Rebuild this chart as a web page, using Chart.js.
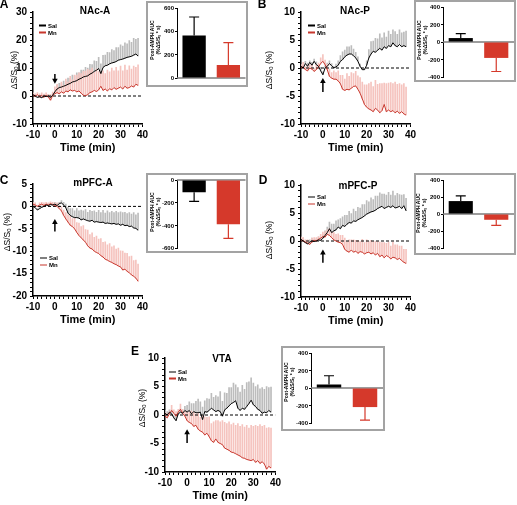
<!DOCTYPE html>
<html>
<head>
<meta charset="utf-8">
<script src="https://cdn.jsdelivr.net/npm/chart.js@4/dist/chart.umd.min.js"></script>
<style>
  body { margin: 0; width: 517px; height: 505px; position: relative; overflow: hidden; background: #fff;
         font-family: "Liberation Sans", Arial, sans-serif; color: #000; }
  canvas { position: absolute; z-index: 1; }
  canvas.inset { z-index: 3; }
  .box { position: absolute; z-index: 2; box-sizing: border-box; border: 2px solid #a3a3a3; background: #fff; }
  .c { position: absolute; z-index: 4; transform: translate(-50%, -50%); white-space: nowrap; font-weight: bold; }
  .letter { font-size: 12px; }
  .ttl { font-size: 10px; }
  .yt { position: absolute; z-index: 4; transform: translate(-50%, -50%) rotate(-90deg); white-space: nowrap; font-size: 8.5px; }
  .it { position: absolute; z-index: 4; transform: translate(-50%, -50%) rotate(-90deg); white-space: nowrap; font-size: 5px;
        line-height: 5.7px; text-align: center; font-weight: bold; }
  sub { font-size: 70%; vertical-align: -0.25em; line-height: 0; }
  .lg { position: absolute; z-index: 4; transform: translateY(-50%); white-space: nowrap; font: bold 6px "Liberation Sans", Arial, sans-serif; line-height: 7px; }
  .lg span { display: inline-block; width: 7px; height: 1.3px; margin-right: 2px; vertical-align: middle; }
  .tk { position: absolute; z-index: 10; transform: translate(-100%, -50%); white-space: nowrap;
        font: bold 6px "Liberation Sans", Arial, sans-serif; line-height: 7px; }
</style>
</head>
<body>

<canvas id="cA" width="150" height="159" style="left:0px;top:0px"></canvas>
<canvas id="cB" width="150" height="159" style="left:268px;top:0px"></canvas>
<canvas id="cC" width="150" height="159" style="left:0px;top:172px"></canvas>
<canvas id="cD" width="150" height="159" style="left:268px;top:173px"></canvas>
<canvas id="cE" width="151" height="161" style="left:132px;top:346px"></canvas>

<div class="box" style="left:146px;top:1px;width:102px;height:86px"></div>
<div class="box" style="left:414px;top:0px;width:102px;height:82px"></div>
<div class="box" style="left:146px;top:173px;width:102px;height:80px"></div>
<div class="box" style="left:414px;top:173px;width:102px;height:82px"></div>
<div class="box" style="left:281px;top:346px;width:104px;height:85px"></div>

<canvas class="inset" id="iA" width="102" height="86" style="left:146px;top:1px"></canvas>
<canvas class="inset" id="iB" width="102" height="82" style="left:414px;top:0px"></canvas>
<canvas class="inset" id="iC" width="102" height="80" style="left:146px;top:173px"></canvas>
<canvas class="inset" id="iD" width="102" height="82" style="left:414px;top:173px"></canvas>
<canvas class="inset" id="iE" width="104" height="85" style="left:281px;top:346px"></canvas>

<!-- panel letters -->
<div class="c letter" style="left:4px;top:4px">A</div>
<div class="c letter" style="left:262px;top:4px">B</div>
<div class="c letter" style="left:4px;top:180px">C</div>
<div class="c letter" style="left:263px;top:180px">D</div>
<div class="c letter" style="left:135px;top:351px">E</div>

<!-- region titles -->
<div class="c ttl" style="left:95px;top:10px">NAc-A</div>
<div class="c ttl" style="left:355px;top:10px">NAc-P</div>
<div class="c ttl" style="left:93px;top:182px">mPFC-A</div>
<div class="c ttl" style="left:358px;top:185px">mPFC-P</div>
<div class="c ttl" style="left:222px;top:358px">VTA</div>

<!-- y axis titles -->
<div class="yt" style="left:14px;top:70px">ΔS/S<sub>0</sub> (%)</div>
<div class="yt" style="left:269px;top:70px">ΔS/S<sub>0</sub> (%)</div>
<div class="yt" style="left:7px;top:232px">ΔS/S<sub>0</sub> (%)</div>
<div class="yt" style="left:269px;top:240px">ΔS/S<sub>0</sub> (%)</div>
<div class="yt" style="left:142px;top:408px">ΔS/S<sub>0</sub> (%)</div>

<!-- inset y titles -->
<div class="it" style="left:156px;top:40px">Post-AMPH AUC<br>(%ΔS/S<sub>0</sub> * s)</div>
<div class="it" style="left:423px;top:40px">Post-AMPH AUC<br>(%ΔS/S<sub>0</sub> * s)</div>
<div class="it" style="left:156px;top:212px">Post-AMPH AUC<br>(%ΔS/S<sub>0</sub> * s)</div>
<div class="it" style="left:422px;top:213px">Post-AMPH AUC<br>(%ΔS/S<sub>0</sub> * s)</div>
<div class="it" style="left:290px;top:382px">Post-AMPH AUC<br>(%ΔS/S<sub>0</sub> * s)</div>

<!-- legends -->
<div class="lg" style="left:39px;top:25.5px"><span style="background:#000"></span>Sal</div>
<div class="lg" style="left:39px;top:32.5px"><span style="background:#c8372d"></span>Mn</div>
<div class="lg" style="left:308px;top:25.5px"><span style="background:#000"></span>Sal</div>
<div class="lg" style="left:308px;top:32.5px"><span style="background:#c8372d"></span>Mn</div>
<div class="lg" style="left:40px;top:258px"><span style="background:#000"></span>Sal</div>
<div class="lg" style="left:40px;top:265px"><span style="background:#c8372d"></span>Mn</div>
<div class="lg" style="left:308px;top:197px"><span style="background:#000"></span>Sal</div>
<div class="lg" style="left:308px;top:204px"><span style="background:#c8372d"></span>Mn</div>
<div class="lg" style="left:169px;top:372px"><span style="background:#000"></span>Sal</div>
<div class="lg" style="left:169px;top:378.5px"><span style="background:#c8372d"></span>Mn</div>

<script>
// time after AMPH (min), one sample per minute
const time = [-10, -9, -8, -7, -6, -5, -4, -3, -2, -1,
  0, 1, 2, 3, 4, 5, 6, 7, 8, 9,
  10, 11, 12, 13, 14, 15, 16, 17, 18, 19,
  20, 21, 22, 23, 24, 25, 26, 27, 28, 29,
  30, 31, 32, 33, 34, 35, 36, 37, 38];

const groups = ['Sal', 'Mn'];

// NAc-A
const salA = [0.5, 0, -0.5, -0.3, -0.6, 0, -0.2, 0, -0.5, 0.3,
  1.5, 2.5, 3.0, 3.2, 3.5, 3.8, 4.2, 4.5, 5.0, 5.2,
  5.5, 6.0, 6.3, 6.8, 7.0, 7.2, 7.8, 8.2, 8.8, 9.2,
  9.8, 8.0, 10.2, 10.8, 11.0, 11.5, 11.8, 12.0, 12.3, 12.8,
  13.0, 13.2, 13.5, 13.8, 14.0, 14.2, 14.6, 15.0, 14.3];
const salAErr = [0.4, 0.6, 0.3, 0.5, 0.4, 0.6, 0.3, 0.5, 0.4, 0.6,
  0.8, 1.2, 1.5, 1.2, 1.8, 1.5, 2.2, 1.8, 2.5, 2.0,
  2.8, 2.3, 3.0, 2.5, 3.2, 2.8, 3.5, 3.0, 3.8, 3.2,
  4.0, 3.5, 4.3, 3.8, 4.6, 4.0, 4.8, 4.2, 5.0, 4.5,
  5.3, 4.6, 5.5, 4.8, 5.8, 5.0, 6.0, 5.2, 6.3];
const mnA = [0.3, -0.2, 0.5, -0.3, 0.2, -0.5, 0.3, -0.4, -1.5, 0.2,
  0.8, 1.2, 0.8, 1.5, 1.0, 1.8, 1.5, 2.2, 1.8, 2.0,
  1.5, 1.8, 1.0, 0.3, 0.1, 0.5, 1.2, 1.5, 2.0, 1.6,
  2.2, 3.5, 2.0, 2.5, 1.8, 2.6, 2.2, 3.0, 2.4, 2.8,
  3.2, 2.5, 3.5, 2.8, 3.0, 3.6, 3.2, 4.2, 3.8];
const mnAErr = [0.8, 1.0, 0.7, 1.1, 0.9, 1.2, 0.8, 1.0, 2.0, 1.2,
  2.5, 3.0, 2.2, 3.5, 2.8, 4.2, 3.5, 4.8, 4.0, 5.5,
  6.0, 6.5, 7.0, 8.5, 8.8, 9.0, 8.0, 8.5, 6.5, 8.0,
  6.5, 5.0, 7.0, 5.5, 7.5, 6.0, 7.8, 6.0, 7.8, 6.2,
  7.5, 6.5, 7.5, 6.5, 7.8, 6.0, 7.5, 6.0, 7.3];

// NAc-P
const salB = [0.3, 0, 0.8, 0.3, 1.0, 0.5, 1.2, 0.6, 0.3, -0.5,
  -1.2, 0, 0.3, 0.8, 0.4, 0, 0.2, 0.5, 1.2, 1.5,
  2.0, 2.3, 2.5, 2.5, 2.2, 1.8, 1.2, 0.3, -0.3, -0.3,
  0.5, 1.8, 2.5, 3.0, 2.8, 3.2, 3.5, 3.2, 3.8, 3.5,
  4.0, 3.8, 4.5, 4.0, 3.8, 4.2, 3.8, 4.0, 3.8];
const salBErr = [0.3, 0.5, 0.4, 0.6, 0.3, 0.5, 0.4, 0.5, 0.3, 0.6,
  0.5, 0.4, 0.6, 0.5, 0.4, 0.3, 0.5, 0.8, 1.0, 1.4,
  1.2, 1.5, 1.3, 1.5, 1.2, 1.0, 0.8, 0.4, 0.3, 0.3,
  0.8, 1.5, 2.2, 1.8, 2.5, 2.0, 2.6, 2.2, 2.5, 2.0,
  2.6, 2.2, 2.3, 2.5, 2.2, 2.6, 2.5, 2.4, 2.8];
const mnB = [0, 0.2, -0.3, -0.5, 0, -0.2, -0.6, -0.3, 0.2, 0.8,
  1.2, 0.6, -0.3, -1.5, -1.8, -2.0, -2.0, -2.3, -2.8, -3.8,
  -4.0, -3.8, -3.9, -3.6, -3.3, -3.2, -3.8, -4.5, -5.5, -6.5,
  -7.0, -7.3, -7.5, -7.8, -7.2, -7.5, -8.0, -7.6, -6.5, -7.8,
  -7.5, -7.8, -7.6, -8.0, -7.7, -8.1, -7.8, -8.2, -8.4];
const mnBErr = [0.6, 0.8, 0.5, 0.9, 0.6, 0.8, 0.5, 0.9, 0.7, 1.0,
  1.2, 0.8, 1.0, 1.3, 1.0, 1.5, 1.2, 1.8, 1.5, 2.5,
  2.0, 2.8, 2.4, 2.8, 2.3, 2.6, 2.4, 2.8, 3.0, 3.5,
  4.0, 4.5, 5.0, 4.5, 5.0, 4.6, 5.2, 4.8, 3.8, 5.0,
  4.8, 5.2, 4.8, 5.5, 4.8, 5.3, 4.8, 5.4, 5.0];

// mPFC-A
const salC = [0, -0.3, -0.8, -0.5, -0.2, 0, 0.3, 0.2, 0.4, 0.3,
  0.5, 0.2, 0.6, 0.8, 0.3, -0.3, -1.5, -2.0, -2.3, -2.5,
  -2.5, -2.6, -3.0, -2.8, -3.0, -3.2, -3.3, -3.1, -3.5, -3.4,
  -3.5, -3.6, -3.5, -3.8, -3.7, -3.8, -3.9, -3.8, -4.0, -3.9,
  -4.2, -4.0, -4.3, -4.2, -4.5, -4.4, -4.8, -4.9, -5.3];
const salCErr = [0.3, 0.4, 0.3, 0.5, 0.3, 0.4, 0.3, 0.5, 0.4, 0.3,
  0.4, 0.5, 0.3, 0.5, 0.6, 0.8, 1.3, 1.5, 1.8, 1.5,
  2.0, 1.6, 2.2, 1.8, 2.3, 1.9, 2.4, 2.0, 2.5, 2.1,
  2.6, 2.2, 2.6, 2.3, 2.7, 2.4, 2.8, 2.4, 2.9, 2.5,
  3.0, 2.6, 3.0, 2.6, 3.1, 2.7, 3.4, 3.0, 3.8];
const mnC = [0.5, 0.3, 0, 0.3, 0.5, 0.2, 0.5, 0.3, 0.6, 0.4,
  0.2, 0, -0.5, -1.0, -2.0, -2.8, -3.5, -4.2, -4.5, -5.0,
  -5.8, -6.5, -7.0, -7.5, -8.0, -8.8, -9.3, -9.5, -10.0, -10.3,
  -10.5, -11.0, -11.3, -11.8, -12.0, -12.3, -12.5, -12.8, -13.0, -13.3,
  -13.5, -14.2, -14.0, -14.5, -14.8, -15.3, -15.6, -16.0, -16.7];
const mnCErr = [0.4, 0.5, 0.3, 0.5, 0.4, 0.6, 0.4, 0.5, 0.4, 0.5,
  0.6, 0.8, 0.7, 1.0, 1.2, 1.4, 1.6, 2.0, 1.8, 2.4,
  2.2, 2.8, 2.5, 3.2, 2.8, 3.5, 3.0, 3.6, 3.1, 3.7,
  3.2, 3.8, 3.3, 3.9, 3.4, 4.0, 3.5, 4.0, 3.5, 4.0,
  3.6, 4.2, 3.6, 4.0, 3.6, 4.2, 3.5, 4.0, 3.8];

// mPFC-P
const salD = [0.3, 0, -0.3, -0.5, -0.2, 0, -0.1, 0, 0.2, 0.1,
  0.5, 1.0, 1.5, 2.2, 1.5, 1.8, 2.0, 2.5, 2.2, 2.8,
  2.6, 3.0, 3.3, 3.2, 3.6, 3.5, 3.8, 4.0, 4.2, 4.5,
  4.8, 5.0, 5.2, 5.3, 5.5, 5.8, 6.0, 6.2, 5.8, 6.0,
  6.2, 6.0, 6.3, 5.9, 6.0, 6.2, 5.8, 6.3, 5.4];
const salDErr = [0.4, 0.5, 0.3, 0.5, 0.4, 0.5, 0.3, 0.4, 0.5, 0.4,
  0.6, 0.8, 1.0, 1.2, 1.5, 1.2, 1.6, 1.3, 1.8, 1.5,
  2.0, 1.6, 2.0, 1.7, 2.1, 1.8, 2.2, 1.9, 2.3, 2.0,
  2.4, 2.0, 2.5, 2.1, 2.5, 2.2, 2.6, 2.2, 2.6, 2.2,
  2.5, 2.2, 2.6, 2.2, 2.5, 2.1, 2.4, 2.0, 2.2];
const mnD = [0.2, 0, -0.2, -0.4, -0.6, -0.2, 0.1, 0, 0.3, 0.5,
  0.8, 0.7, 1.2, 1.0, 0.6, 0.2, 0, -0.2, -0.3, -0.6,
  -1.5, -1.8, -2.0, -1.6, -2.0, -1.8, -2.2, -1.9, -2.0, -2.3,
  -2.1, -2.0, -2.3, -2.1, -2.5, -2.2, -2.8, -2.5, -3.0, -2.6,
  -2.8, -3.2, -2.9, -3.0, -3.3, -3.1, -3.5, -3.8, -4.0];
const mnDErr = [0.5, 0.6, 0.4, 0.6, 0.5, 0.7, 0.5, 0.6, 0.5, 0.7,
  0.8, 1.0, 0.8, 1.2, 1.0, 1.3, 1.2, 1.5, 1.3, 1.6,
  2.0, 1.8, 2.2, 1.8, 2.2, 1.9, 2.3, 1.9, 2.3, 2.0,
  2.3, 2.0, 2.4, 2.0, 2.5, 2.1, 2.6, 2.2, 2.7, 2.2,
  2.6, 2.3, 2.7, 2.3, 2.6, 2.2, 2.6, 2.3, 2.5];

// VTA
const salE = [0.3, 0, 0.5, 0.2, -0.5, -1.0, 0.2, 0.5, 0.3, 0.8,
  0.5, 0.8, 0.2, 0.6, 0.4, 0.4, 0.5, -0.8, 0.6, 0.5,
  0.8, 1.2, 0.9, 0.6, 0.8, 0.6, -0.2, 0.9, 1.2, 1.6,
  2.0, 2.2, 2.5, 1.2, 0.8, 1.2, 1.0, 1.5, 2.0, 2.6,
  1.8, 1.5, 1.0, 0.8, 0.3, 0.5, 0.4, 0.8, 0.5];
const salEErr = [0.5, 0.6, 0.4, 0.7, 0.5, 0.8, 0.4, 0.6, 0.5, 0.7,
  1.2, 1.5, 1.8, 1.4, 2.0, 2.4, 1.8, 2.2, 1.9, 2.4,
  2.0, 2.6, 2.2, 2.8, 2.4, 3.5, 2.6, 3.0, 2.6, 3.2,
  2.8, 3.4, 2.8, 3.6, 3.2, 4.0, 3.5, 4.2, 3.8, 3.9,
  3.8, 3.5, 4.3, 3.8, 4.5, 4.0, 4.6, 4.0, 4.4];
const mnE = [-0.2, -0.5, 0.2, 0.8, 0.3, -0.2, 0.5, 1.0, 0.3, -0.2,
  -1.0, -1.3, -1.5, -2.0, -1.8, -2.5, -2.8, -3.0, -3.5, -3.2,
  -3.8, -4.5, -4.8, -4.2, -4.8, -5.0, -5.2, -5.8, -6.0, -6.2,
  -6.5, -6.6, -6.8, -7.0, -7.2, -7.5, -7.6, -7.8, -7.9, -8.0,
  -7.8, -8.3, -8.0, -8.5, -8.2, -8.6, -9.5, -9.0, -9.3];
const mnEErr = [0.6, 0.8, 0.5, 0.9, 0.6, 0.8, 0.5, 0.9, 0.7, 0.8,
  1.5, 1.8, 2.2, 2.5, 2.0, 2.8, 2.4, 3.0, 3.2, 2.8,
  3.5, 3.0, 3.6, 3.2, 3.8, 3.8, 4.2, 4.5, 4.5, 5.0,
  4.8, 5.2, 5.0, 5.5, 5.2, 5.8, 5.5, 6.0, 5.6, 6.2,
  5.8, 6.5, 6.0, 6.8, 6.2, 6.8, 7.2, 6.8, 7.0];

// post-AMPH AUC insets (Sal, Mn) and their error bars
const aucA = [365, 112];
const aucAErr = [158, 192];
const aucB = [45, -182];
const aucBErr = [50, 155];
const aucC = [-108, -388];
const aucCErr = [80, 124];
const aucD = [152, -68];
const aucDErr = [62, 65];
const aucE = [40, -218];
const aucEErr = [100, 150];

const FONT = '"Liberation Sans", Arial, sans-serif';
Chart.defaults.font.family = FONT;
Chart.defaults.color = '#000';

const points = (ys) => time.map((t, i) => ({ x: t, y: ys[i] }));
const errBand = (ys, errs) => time.map((t, i) => ({ x: t, y: [ys[i], ys[i] + errs[i]] }));

// AMPH injection arrow, placed on the chart's own scales
function arrowPlugin(at, from, to) {
  return {
    id: 'arrow',
    afterDatasetsDraw(chart) {
      const { ctx, scales: { x, y } } = chart;
      const px = x.getPixelForValue(at);
      const y0 = y.getPixelForValue(from);
      const y1 = y.getPixelForValue(to);
      const dir = Math.sign(y1 - y0);
      ctx.save();
      ctx.strokeStyle = '#000';
      ctx.fillStyle = '#000';
      ctx.lineWidth = 1.5;
      ctx.beginPath();
      ctx.moveTo(px, y0);
      ctx.lineTo(px, y1 - dir * 4);
      ctx.stroke();
      ctx.beginPath();
      ctx.moveTo(px - 2.8, y1 - dir * 5);
      ctx.lineTo(px + 2.8, y1 - dir * 5);
      ctx.lineTo(px, y1);
      ctx.closePath();
      ctx.fill();
      ctx.restore();
    }
  };
}

// gray zero line and one-sided capped error bars for an AUC inset
function aucErrorPlugin(vals, errs, colors) {
  return {
    id: 'aucErr',
    beforeDatasetsDraw(chart) {
      const { ctx, chartArea, scales: { y } } = chart;
      const y0 = y.getPixelForValue(0);
      ctx.save();
      ctx.strokeStyle = '#7d7d7d';
      ctx.lineWidth = 1.5;
      ctx.beginPath();
      ctx.moveTo(chartArea.left, y0);
      ctx.lineTo(chartArea.right, y0);
      ctx.stroke();
      ctx.restore();
    },
    afterDatasetsDraw(chart) {
      const { ctx, scales: { y } } = chart;
      ctx.save();
      ctx.lineWidth = 1.2;
      chart.getDatasetMeta(0).data.forEach((bar, i) => {
        const end = y.getPixelForValue(vals[i]);
        const tip = y.getPixelForValue(vals[i] + Math.sign(vals[i]) * errs[i]);
        ctx.strokeStyle = colors[i];
        ctx.beginPath();
        ctx.moveTo(bar.x, end);
        ctx.lineTo(bar.x, tip);
        ctx.moveTo(bar.x - 5, tip);
        ctx.lineTo(bar.x + 5, tip);
        ctx.stroke();
      });
      ctx.restore();
    }
  };
}

function drawTrace(id, sal, salErr, mn, mnErr, yMin, yMax, yMajor, yMinor, arrow) {
  new Chart(document.getElementById(id), {
    type: 'line',
    data: {
      datasets: [
        { type: 'line', label: groups[0], data: points(sal), borderColor: '#000', borderWidth: 1, pointRadius: 0, order: 1 },
        { type: 'line', label: groups[1], data: points(mn), borderColor: '#c8372d', borderWidth: 1, pointRadius: 0, order: 2 },
        { type: 'line', data: [{ x: -10, y: 0 }, { x: 40, y: 0 }], borderColor: '#000', borderWidth: 1,
          borderDash: [3, 2], pointRadius: 0, order: 3 },
        { type: 'bar', data: errBand(mn, mnErr), backgroundColor: '#f5c3be', barThickness: 1, grouped: false, order: 4 },
        { type: 'bar', data: errBand(sal, salErr), backgroundColor: '#bcbcbc', barThickness: 1, grouped: false, order: 5 }
      ]
    },
    options: {
      responsive: false,
      animation: false,
      layout: { padding: { left: 0, right: 7, top: 12, bottom: 0 } },
      plugins: { legend: { display: false }, tooltip: { enabled: false } },
      scales: {
        x: {
          type: 'linear', min: -10, max: 40, offset: false,
          ticks: { stepSize: 2, autoSkip: false, maxRotation: 0, padding: 2,
                   font: { size: 10, weight: 'bold' }, color: '#000',
                   callback: (v) => (v % 10 === 0 ? v : '') },
          grid: { drawOnChartArea: false, tickLength: 3, color: '#000', offset: false },
          border: { color: '#000', width: 1.5 },
          title: { display: true, text: 'Time (min)', color: '#000', font: { size: 11, weight: 'bold' },
                   padding: { top: 2, bottom: 4 } },
          afterFit: (s) => { s.height = 35; }
        },
        y: {
          min: yMin, max: yMax,
          ticks: { stepSize: yMinor, autoSkip: false, padding: 3,
                   font: { size: 10, weight: 'bold' }, color: '#000',
                   callback: (v) => (Math.abs(v % yMajor) < 1e-9 ? v : '') },
          grid: { drawOnChartArea: false, tickLength: 3, color: '#000' },
          border: { color: '#000', width: 1.5 },
          afterFit: (s) => { s.width = 33; }
        }
      }
    },
    plugins: [arrowPlugin(arrow[0], arrow[1], arrow[2])]
  });
}

// inset tick labels as page text, placed from the chart's own y scale
function tickLabels(canvas, chart) {
  const y = chart.scales.y;
  const left = parseFloat(canvas.style.left);
  const top = parseFloat(canvas.style.top);
  y.ticks.forEach((t) => {
    const d = document.createElement('div');
    d.className = 'tk';
    d.textContent = String(t.value);
    d.style.left = (left + y.right - 3) + 'px';
    d.style.top = (top + y.getPixelForValue(t.value)) + 'px';
    document.body.appendChild(d);
  });
}

function drawAuc(id, vals, errs, yMin, yMax, yW, pad) {
  const colors = ['#000000', '#d5392b'];
  const canvas = document.getElementById(id);
  const chart = new Chart(canvas, {
    type: 'bar',
    data: {
      labels: groups,
      datasets: [{ data: vals, backgroundColor: colors, borderWidth: 0, barPercentage: 0.68, categoryPercentage: 1 }]
    },
    options: {
      responsive: false,
      animation: false,
      layout: { padding: pad },
      plugins: { legend: { display: false }, tooltip: { enabled: false } },
      scales: {
        x: { display: false },
        y: {
          min: yMin, max: yMax,
          ticks: { stepSize: 200, padding: 1, autoSkip: false, font: { size: 6, weight: 'bold' }, color: 'rgba(0,0,0,0)' },
          grid: { drawOnChartArea: false, tickLength: 2, color: '#000' },
          border: { color: '#000', width: 1 },
          afterFit: (s) => { s.width = yW; }
        }
      }
    },
    plugins: [aucErrorPlugin(vals, errs, colors)]
  });
  tickLabels(canvas, chart);
}

drawTrace('cA', salA, salAErr, mnA, mnAErr, -10, 30, 10, 2, [0, 7.9, 4.4]);
drawTrace('cB', salB, salBErr, mnB, mnBErr, -10, 10, 5, 1, [0, -4.3, -1.8]);
drawTrace('cC', salC, salCErr, mnC, mnCErr, -20, 5, 5, 1, [0, -5.6, -2.8]);
drawTrace('cD', salD, salDErr, mnD, mnDErr, -10, 10, 5, 1, [0, -3.9, -1.5]);
drawTrace('cE', salE, salEErr, mnE, mnEErr, -10, 10, 5, 1, [0, -4.9, -2.5]);

drawAuc('iA', aucA, aucAErr, 0, 600, 31, { left: 0, right: 2.5, top: 7, bottom: 9 });
drawAuc('iB', aucB, aucBErr, -400, 400, 29, { left: 0, right: 2, top: 7, bottom: 5 });
drawAuc('iC', aucC, aucCErr, -600, 0, 31, { left: 0, right: 2.5, top: 7, bottom: 4 });
drawAuc('iD', aucD, aucDErr, -400, 400, 29, { left: 0, right: 2, top: 7, bottom: 7 });
drawAuc('iE', aucE, aucEErr, -400, 400, 30, { left: 0, right: 2, top: 7, bottom: 8 });
</script>
</body>
</html>
